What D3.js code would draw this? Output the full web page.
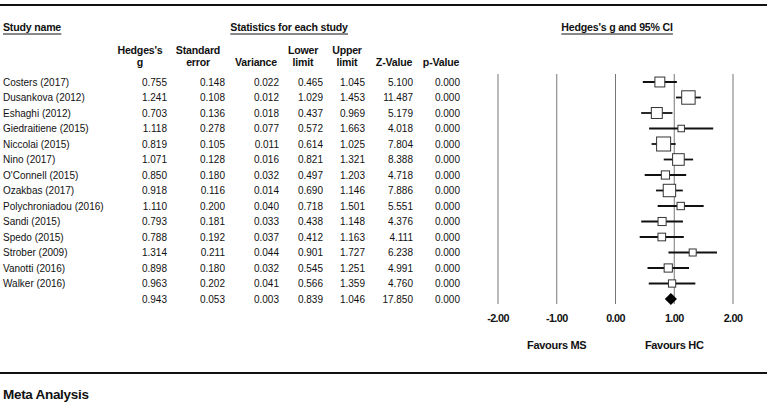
<!DOCTYPE html>
<meta charset="utf-8">
<style>
body { margin: 0; background: #fff; }
svg { font-family: "Liberation Sans", Arial, sans-serif; }
.cell { font-size: 10px; fill: #111; }
.hdr { font-size: 10.6px; font-weight: bold; fill: #111; letter-spacing: -0.2px; }
.tick-lbl { font-size: 10.8px; font-weight: bold; fill: #111; letter-spacing: -0.6px; }
.fav { font-size: 11px; font-weight: bold; fill: #111; letter-spacing: -0.3px; }
.foot { font-size: 13.5px; font-weight: bold; fill: #111; letter-spacing: -0.3px; }
</style>
<svg width="770" height="407"></svg>
<script src="https://cdn.jsdelivr.net/npm/d3@7"></script>
<script>

var studies = ["Costers (2017)", "Dusankova (2012)", "Eshaghi (2012)", "Giedraitiene (2015)",
  "Niccolai (2015)", "Nino (2017)", "O'Connell (2015)", "Ozakbas (2017)", "Polychroniadou (2016)",
  "Sandi (2015)", "Spedo (2015)", "Strober (2009)", "Vanotti (2016)", "Walker (2016)"];
var hedgesG = [0.755, 1.241, 0.703, 1.118, 0.819, 1.071, 0.850, 0.918, 1.110, 0.793, 0.788, 1.314, 0.898, 0.963];
var stdErr = [0.148, 0.108, 0.136, 0.278, 0.105, 0.128, 0.180, 0.116, 0.200, 0.181, 0.192, 0.211, 0.180, 0.202];
var variance = [0.022, 0.012, 0.018, 0.077, 0.011, 0.016, 0.032, 0.014, 0.040, 0.033, 0.037, 0.044, 0.032, 0.041];
var lowerLimit = [0.465, 1.029, 0.437, 0.572, 0.614, 0.821, 0.497, 0.690, 0.718, 0.438, 0.412, 0.901, 0.545, 0.566];
var upperLimit = [1.045, 1.453, 0.969, 1.663, 1.025, 1.321, 1.203, 1.146, 1.501, 1.148, 1.163, 1.727, 1.251, 1.359];
var zValue = [5.100, 11.487, 5.179, 4.018, 7.804, 8.388, 4.718, 7.886, 5.551, 4.376, 4.111, 6.238, 4.991, 4.760];
var pValue = [0, 0, 0, 0, 0, 0, 0, 0, 0, 0, 0, 0, 0, 0];

// pooled estimate
var summary = { g: 0.943, se: 0.053, v: 0.003, lo: 0.839, hi: 1.046, z: 17.850, p: 0 };

var xTicks = [-2, -1, 0, 1, 2];
var favourLabels = [{ at: -1, text: "Favours MS" }, { at: 1, text: "Favours HC" }];

var svg = d3.select("svg");
var f3 = d3.format(".3f");

var rowY = d3.scaleLinear().domain([0, 14]).range([82, 299]);
var x = d3.scaleLinear().domain([-2, 2]).range([498, 733]);

// frame lines
svg.append("line").attr("x1", 0).attr("x2", 767).attr("y1", 5).attr("y2", 5)
   .attr("stroke", "#111").attr("stroke-width", 2);
svg.append("line").attr("x1", 0).attr("x2", 767).attr("y1", 373).attr("y2", 373)
   .attr("stroke", "#111").attr("stroke-width", 2);

// group headers with underlines
var groups = [
  { text: "Study name", x: 3, anchor: "start" },
  { text: "Statistics for each study", x: 289, anchor: "middle" },
  { text: "Hedges's g and 95% CI", x: 617, anchor: "middle" }
];
groups.forEach(function(gr) {
  var t = svg.append("text").attr("class", "hdr").attr("x", gr.x).attr("y", 31)
    .attr("text-anchor", gr.anchor).text(gr.text);
  var bb = t.node().getBBox();
  svg.append("line").attr("x1", bb.x).attr("x2", bb.x + bb.width)
    .attr("y1", 34).attr("y2", 34).attr("stroke", "#111").attr("stroke-width", 1);
});

// columns
var cols = [
  { h: ["Hedges's", "g"], cx: 140, right: 167, vals: hedgesG, s: summary.g },
  { h: ["Standard", "error"], cx: 198, right: 225, vals: stdErr, s: summary.se },
  { h: ["", "Variance"], cx: 256, right: 279, vals: variance, s: summary.v },
  { h: ["Lower", "limit"], cx: 303, right: 323, vals: lowerLimit, s: summary.lo },
  { h: ["Upper", "limit"], cx: 347, right: 365, vals: upperLimit, s: summary.hi },
  { h: ["", "Z-Value"], cx: 394, right: 413, vals: zValue, s: summary.z },
  { h: ["", "p-Value"], cx: 441, right: 460, vals: pValue, s: summary.p }
];

cols.forEach(function(c) {
  c.h.forEach(function(line, k) {
    svg.append("text").attr("class", "hdr").attr("x", c.cx).attr("y", 54 + k * 12)
      .attr("text-anchor", "middle").text(line);
  });
  svg.append("g").selectAll("text")
    .data(c.vals.concat([c.s]))
    .enter().append("text")
      .attr("class", "cell")
      .attr("x", c.right)
      .attr("y", function(d, i) { return rowY(i) + 3.5; })
      .attr("text-anchor", "end")
      .text(function(d) { return f3(d); });
});

svg.append("g").selectAll("text")
  .data(studies)
  .enter().append("text")
    .attr("class", "cell")
    .attr("x", 3)
    .attr("y", function(d, i) { return rowY(i) + 3.5; })
    .text(function(d) { return d; });

// forest plot grid
svg.append("g").selectAll("line")
  .data(xTicks)
  .enter().append("line")
    .attr("x1", function(d) { return x(d); })
    .attr("x2", function(d) { return x(d); })
    .attr("y1", 74).attr("y2", 304)
    .attr("stroke", "#777").attr("stroke-width", 1);

svg.append("g").selectAll("text")
  .data(xTicks)
  .enter().append("text")
    .attr("class", "tick-lbl")
    .attr("x", function(d) { return x(d); })
    .attr("y", 322)
    .attr("text-anchor", "middle")
    .text(function(d) { return d3.format(".2f")(d).replace("\u2212", "-"); });

svg.append("g").selectAll("text")
  .data(favourLabels)
  .enter().append("text")
    .attr("class", "fav")
    .attr("x", function(d) { return x(d.at); })
    .attr("y", 349)
    .attr("text-anchor", "middle")
    .text(function(d) { return d.text; });

// study CIs and boxes
var plot = svg.append("g");
studies.forEach(function(s, i) {
  var y = rowY(i);
  plot.append("line")
    .attr("x1", x(lowerLimit[i])).attr("x2", x(upperLimit[i]))
    .attr("y1", y).attr("y2", y)
    .attr("stroke", "#111").attr("stroke-width", 1.8);
  var side = Math.max(6.5, 1.47 * Math.sqrt(1 / variance[i]));
  plot.append("rect")
    .attr("x", x(hedgesG[i]) - side / 2).attr("y", y - side / 2)
    .attr("width", side).attr("height", side)
    .attr("fill", "#fff").attr("stroke", "#333").attr("stroke-width", 1);
});

// summary diamond
var sy = rowY(14);
plot.append("path")
  .attr("d", "M" + x(summary.lo) + "," + sy +
             "L" + x(summary.g) + "," + (sy - 6) +
             "L" + x(summary.hi) + "," + sy +
             "L" + x(summary.g) + "," + (sy + 6) + "Z")
  .attr("fill", "#000");

// footer
svg.append("text").attr("class", "foot").attr("x", 3).attr("y", 399).text("Meta Analysis");

</script>
